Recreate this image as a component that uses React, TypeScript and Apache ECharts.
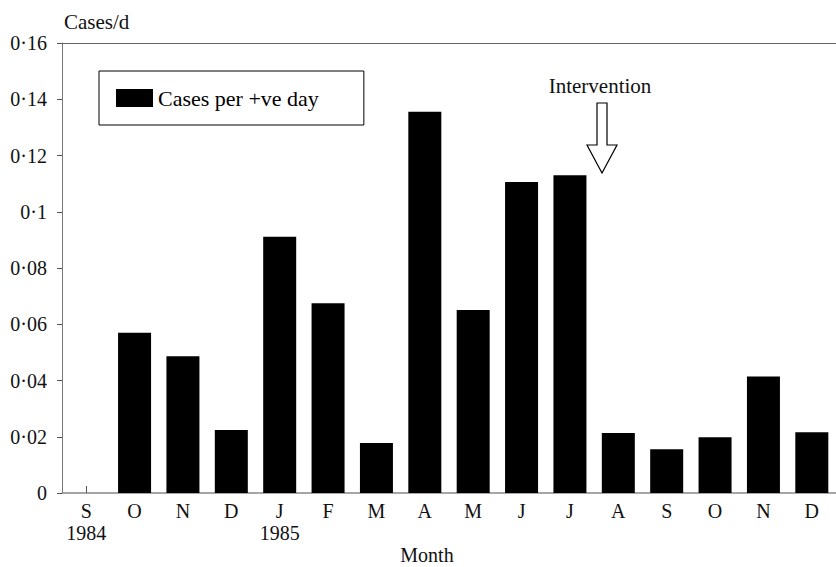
import React, { useEffect, useRef } from "react";
import * as echarts from "echarts";

const months = ["S\n1984", "O", "N", "D", "J\n1985", "F", "M", "A", "M", "J", "J", "A", "S", "O", "N", "D"];
const casesPerPositiveDay = [0, 0.057, 0.0486, 0.0224, 0.0911, 0.0675, 0.0178, 0.1356, 0.0651, 0.1106, 0.113, 0.0213, 0.0156, 0.0198, 0.0414, 0.0216];
const yTickLabels = ["0", "0·02", "0·04", "0·06", "0·08", "0·1", "0·12", "0·14", "0·16"];
const seriesName = "Cases per +ve day";

const FONT = "'Liberation Serif', 'Times New Roman', serif";

export default function App() {
  const ref = useRef<HTMLDivElement>(null);
  useEffect(() => {
    if (!ref.current) return;
    const chart = echarts.init(ref.current, undefined, { renderer: "svg" });
    chart.setOption({
      animation: false,
      backgroundColor: "#fff",
      textStyle: { fontFamily: FONT },
      grid: { left: 62, right: -10, top: 43, bottom: 74 },
      legend: {
        left: 99,
        top: 71,
        orient: "horizontal",
        padding: [16, 45, 16, 17],
        borderColor: "#000",
        borderWidth: 1,
        itemWidth: 37,
        itemHeight: 18,
        itemGap: 5,
        icon: "rect",
        selectedMode: false,
        textStyle: { fontFamily: FONT, fontSize: 22, color: "#000", lineHeight: 22, padding: [0, 0, 0, 0] },
        data: [seriesName],
      },
      xAxis: [
        {
          type: "category",
          data: months,
          boundaryGap: true,
          axisLine: { show: true, lineStyle: { color: "#888", width: 1.5 } },
          axisTick: {
            show: true,
            inside: true,
            length: 7,
            alignWithLabel: true,
            interval: (i: number) => i === 0,
            lineStyle: { color: "#555" },
          },
          axisLabel: {
            interval: 0,
            margin: 7,
            fontFamily: FONT,
            fontSize: 20,
            lineHeight: 22,
            color: "#111",
          },
          splitLine: { show: false },
        },
        {
          type: "category",
          data: months,
          position: "top",
          axisLine: { show: true, lineStyle: { color: "#666", width: 1 } },
          axisTick: { show: false },
          axisLabel: { show: false },
          splitLine: { show: false },
        },
      ],
      yAxis: {
        type: "value",
        min: 0,
        max: 0.16,
        interval: 0.02,
        axisLine: { show: true, lineStyle: { color: "#777", width: 1 } },
        axisTick: { show: true, length: 5, lineStyle: { color: "#555" } },
        splitLine: { show: false },
        axisLabel: {
          margin: 15,
          fontFamily: FONT,
          fontSize: 20,
          color: "#111",
          formatter: (v: number) => yTickLabels[Math.round(v / 0.02)] ?? "",
        },
      },
      series: [
        {
          name: seriesName,
          type: "bar",
          data: casesPerPositiveDay,
          barWidth: 33,
          itemStyle: { color: "#000" },
        },
      ],
      graphic: [
        {
          type: "text",
          left: 64,
          top: 11,
          style: { text: "Cases/d", fontFamily: FONT, fontSize: 21, fill: "#111" },
        },
        {
          type: "text",
          x: 427,
          y: 555,
          style: { text: "Month", fontFamily: FONT, fontSize: 20, fill: "#111", align: "center", verticalAlign: "middle" },
        },
        {
          type: "text",
          x: 600,
          y: 86,
          style: { text: "Intervention", fontFamily: FONT, fontSize: 21, fill: "#111", align: "center", verticalAlign: "middle" },
        },
        {
          type: "polygon",
          shape: {
            points: [
              [597, 103],
              [607, 103],
              [607, 145],
              [617, 145],
              [602, 173],
              [587, 145],
              [597, 145],
            ],
          },
          style: { fill: "#fff", stroke: "#000", lineWidth: 1.2 },
        },
      ],
    });
    return () => chart.dispose();
  }, []);
  return <div ref={ref} style={{ position: "fixed", left: 0, top: 0, width: 836, height: 567, background: "#fff" }} />;
}
